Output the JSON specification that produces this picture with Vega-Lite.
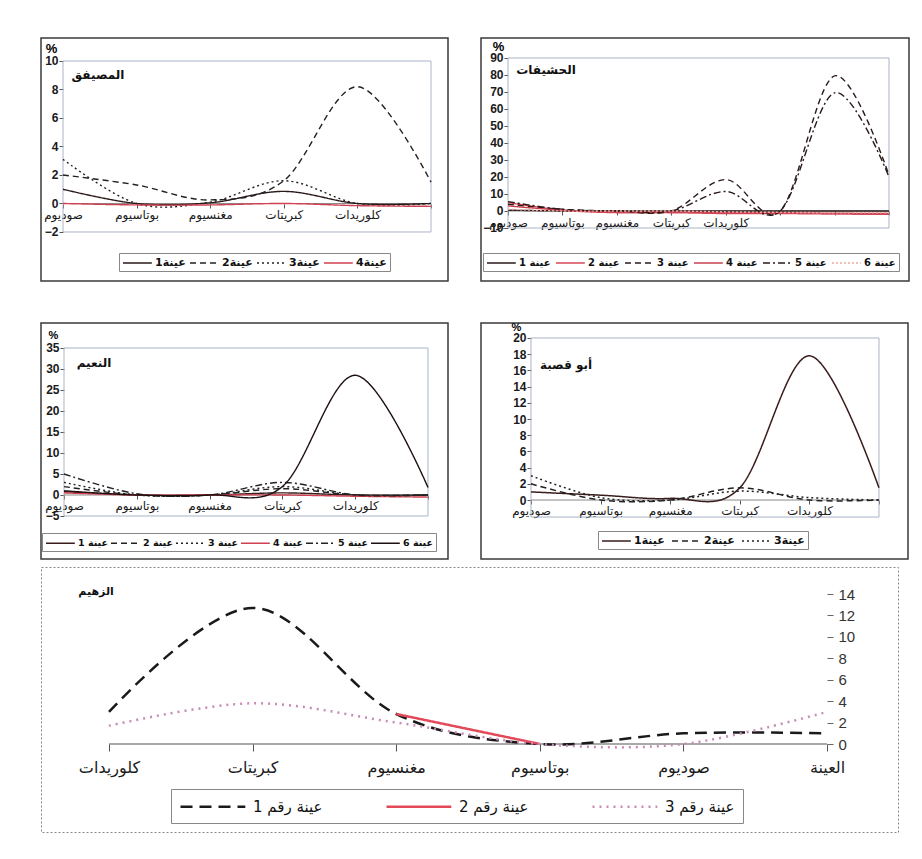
{
  "$schema": "https://vega.github.io/schema/vega-lite/v6.json",
  "padding": {"left": 40, "top": 37, "right": 0, "bottom": 0},
  "background": "white",
  "spacing": 6,
  "resolve": {"scale": {"color": "independent", "strokeDash": "independent"}, "legend": {"color": "independent", "strokeDash": "independent"}},
  "config": {
    "font": "DejaVu Sans",
    "axis": {"grid": false, "domain": false, "labelFont": "Liberation Sans", "labelColor": "#1a1a1a", "tickColor": "#555", "labelOverlap": false, "labelBound": false, "labelFlush": false, "tickCount": 30, "format": "d"},
    "legend": {"symbolType": "M-1,0H3.8", "symbolSize": 144, "labelOffset": 19, "symbolStrokeWidth": 1.5, "labelFont": "DejaVu Sans", "labelFontSize": 10, "labelFontWeight": "bold", "labelColor": "#111", "padding": 3, "strokeColor": "#888", "columnPadding": 2}
  },
  "vconcat": [
    {
      "spacing": 38,
      "resolve": {"scale": {"color": "independent", "strokeDash": "independent"}, "legend": {"color": "independent", "strokeDash": "independent"}},
      "vconcat": [
        {
          "bounds": "flush",
          "spacing": 33,
          "resolve": {"scale": {"color": "independent", "strokeDash": "independent"}, "legend": {"color": "independent", "strokeDash": "independent"}},
          "hconcat": [
            {
              "width": 407, "height": 243,
              "view": {"stroke": "#3a3a3a", "strokeWidth": 1.5},
              "layer": [
                {"data": {"values": [{}]}, "mark": {"type": "rect", "fillOpacity": 0, "stroke": "#a9b3c6", "strokeWidth": 1},
                 "encoding": {"x": {"datum": 0}, "x2": {"datum": 5}, "y": {"datum": -2}, "y2": {"datum": 10}}},
                {"data": {"values": [{}]}, "mark": {"type": "rule", "color": "#8a8a8a", "strokeWidth": 1},
                 "encoding": {"x": {"datum": 0}, "x2": {"datum": 5}, "y": {"datum": 0}}},
                {
                  "data": {"values": [
                    {"s": "عينة1", "i": 0, "v": 1}, {"s": "عينة1", "i": 1, "v": 0}, {"s": "عينة1", "i": 2, "v": 0.05}, {"s": "عينة1", "i": 3, "v": 0.85}, {"s": "عينة1", "i": 4, "v": 0}, {"s": "عينة1", "i": 5, "v": 0},
                    {"s": "عينة2", "i": 0, "v": 2}, {"s": "عينة2", "i": 1, "v": 1.3}, {"s": "عينة2", "i": 2, "v": 0.25}, {"s": "عينة2", "i": 3, "v": 1.6}, {"s": "عينة2", "i": 4, "v": 8.2}, {"s": "عينة2", "i": 5, "v": 1.5},
                    {"s": "عينة3", "i": 0, "v": 3.1}, {"s": "عينة3", "i": 1, "v": 0}, {"s": "عينة3", "i": 2, "v": 0.1}, {"s": "عينة3", "i": 3, "v": 1.6}, {"s": "عينة3", "i": 4, "v": 0}, {"s": "عينة3", "i": 5, "v": 0},
                    {"s": "عينة4", "i": 0, "v": 0}, {"s": "عينة4", "i": 1, "v": -0.1}, {"s": "عينة4", "i": 2, "v": -0.1}, {"s": "عينة4", "i": 3, "v": 0}, {"s": "عينة4", "i": 4, "v": -0.15}, {"s": "عينة4", "i": 5, "v": -0.2}
                  ]},
                  "mark": {"type": "line", "interpolate": "cardinal", "strokeWidth": 1.4},
                  "encoding": {
                    "x": {"field": "i", "type": "quantitative", "scale": {"domain": [-0.299, 5.231], "nice": false, "zero": false},
                          "axis": {"orient": "bottom", "offset": -77, "values": [0, 1, 2, 3, 4, 5], "tickCount": 30, "labelExpr": "['صوديوم','بوتاسيوم','مغنسيوم','كبريتات','كلوريدات',''][datum.value]", "tickSize": 4, "labelPadding": 1, "labelFont": "DejaVu Sans", "labelFontSize": 12, "title": null}},
                    "y": {"field": "v", "type": "quantitative", "scale": {"domain": [-5.439, 11.614], "nice": false, "zero": false},
                          "axis": {"orient": "left", "offset": -22, "values": [-2, 0, 2, 4, 6, 8, 10], "tickCount": 30, "format": "d", "tickSize": 4, "labelFontSize": 12, "labelFontWeight": "bold", "labelPadding": 1, "title": "%", "titleAngle": 0, "titleX": -12, "titleY": 10, "titleFont": "Liberation Sans", "titleFontSize": 13, "titleFontWeight": "bold", "titleAlign": "center", "titleBaseline": "middle"}},
                    "color": {"field": "s", "type": "nominal", "scale": {"domain": ["عينة1", "عينة2", "عينة3", "عينة4"], "range": ["#2a1a1a", "#222222", "#222222", "#d04050"]},
                              "legend": {"orient": "none", "legendX": 78, "legendY": 215, "direction": "horizontal", "title": null, "labelFontSize": 11, "columnPadding": 1, "labelExpr": "slice(datum.label,-1) + trim(slice(datum.label,0,-1))"}},
                    "strokeDash": {"field": "s", "type": "nominal", "scale": {"domain": ["عينة1", "عينة2", "عينة3", "عينة4"], "range": [[1, 0], [6, 4], [2, 3], [1, 0]]}}
                  }
                },
                {"data": {"values": [{"name": "المصيفق"}]}, "mark": {"type": "text", "font": "DejaVu Sans", "fontSize": 12, "fontWeight": "bold", "color": "#111"},
                 "encoding": {"x": {"datum": 0.475}, "y": {"datum": 9.0}, "text": {"field": "name"}}}
              ]
            },
            {
              "width": 428, "height": 243,
              "view": {"stroke": "#3a3a3a", "strokeWidth": 1.5},
              "layer": [
                {"data": {"values": [{}]}, "mark": {"type": "rect", "fillOpacity": 0, "stroke": "#a9b3c6", "strokeWidth": 1},
                 "encoding": {"x": {"datum": 0}, "x2": {"datum": 7}, "y": {"datum": -10}, "y2": {"datum": 90}}},
                {"data": {"values": [{}]}, "mark": {"type": "rule", "color": "#8a8a8a", "strokeWidth": 1},
                 "encoding": {"x": {"datum": 0}, "x2": {"datum": 7}, "y": {"datum": 0}}},
                {
                  "data": {"values": [
                    {"s": "عينة 1", "i": 0, "v": 0.5}, {"s": "عينة 1", "i": 1, "v": 0}, {"s": "عينة 1", "i": 2, "v": 0}, {"s": "عينة 1", "i": 3, "v": 0}, {"s": "عينة 1", "i": 4, "v": 0}, {"s": "عينة 1", "i": 5, "v": 0}, {"s": "عينة 1", "i": 6, "v": 0}, {"s": "عينة 1", "i": 7, "v": 0},
                    {"s": "عينة 2", "i": 0, "v": 5}, {"s": "عينة 2", "i": 1, "v": 0.5}, {"s": "عينة 2", "i": 2, "v": -1}, {"s": "عينة 2", "i": 3, "v": -1}, {"s": "عينة 2", "i": 4, "v": -1.5}, {"s": "عينة 2", "i": 5, "v": -1.5}, {"s": "عينة 2", "i": 6, "v": -1.8}, {"s": "عينة 2", "i": 7, "v": -2},
                    {"s": "عينة 3", "i": 0, "v": 4}, {"s": "عينة 3", "i": 1, "v": 1}, {"s": "عينة 3", "i": 2, "v": 0}, {"s": "عينة 3", "i": 3, "v": 0}, {"s": "عينة 3", "i": 4, "v": 18.5}, {"s": "عينة 3", "i": 5, "v": 0}, {"s": "عينة 3", "i": 6, "v": 79.5}, {"s": "عينة 3", "i": 7, "v": 21},
                    {"s": "عينة 4", "i": 0, "v": 3}, {"s": "عينة 4", "i": 1, "v": 0.5}, {"s": "عينة 4", "i": 2, "v": -0.5}, {"s": "عينة 4", "i": 3, "v": -0.5}, {"s": "عينة 4", "i": 4, "v": -1}, {"s": "عينة 4", "i": 5, "v": -1}, {"s": "عينة 4", "i": 6, "v": -1.3}, {"s": "عينة 4", "i": 7, "v": -1.5},
                    {"s": "عينة 5", "i": 0, "v": 5.5}, {"s": "عينة 5", "i": 1, "v": 1}, {"s": "عينة 5", "i": 2, "v": 0}, {"s": "عينة 5", "i": 3, "v": 0}, {"s": "عينة 5", "i": 4, "v": 11.5}, {"s": "عينة 5", "i": 5, "v": 0}, {"s": "عينة 5", "i": 6, "v": 69.5}, {"s": "عينة 5", "i": 7, "v": 20},
                    {"s": "عينة 6", "i": 0, "v": 1}, {"s": "عينة 6", "i": 1, "v": 0}, {"s": "عينة 6", "i": 2, "v": 0}, {"s": "عينة 6", "i": 3, "v": 0}, {"s": "عينة 6", "i": 4, "v": -0.5}, {"s": "عينة 6", "i": 5, "v": -0.8}, {"s": "عينة 6", "i": 6, "v": -1}, {"s": "عينة 6", "i": 7, "v": -1}
                  ]},
                  "mark": {"type": "line", "interpolate": "cardinal", "strokeWidth": 1.4},
                  "encoding": {
                    "x": {"field": "i", "type": "quantitative", "scale": {"domain": [-0.496, 7.367], "nice": false, "zero": false},
                          "axis": {"orient": "bottom", "offset": -70, "values": [0, 1, 2, 3, 4, 5, 6, 7], "tickCount": 30, "labelExpr": "['صوديوم','بوتاسيوم','مغنسيوم','كبريتات','كلوريدات','','',''][datum.value]", "tickSize": 4, "labelPadding": 2, "labelFont": "DejaVu Sans", "labelFontSize": 12, "title": null}},
                    "y": {"field": "v", "type": "quantitative", "scale": {"domain": [-41.18, 101.76], "nice": false, "zero": false},
                          "axis": {"orient": "left", "offset": -27, "values": [-10, 0, 10, 20, 30, 40, 50, 60, 70, 80, 90], "tickCount": 30, "format": "d", "tickSize": 4, "labelFontSize": 12, "labelFontWeight": "bold", "labelPadding": 1, "title": "%", "titleAngle": 0, "titleX": -10, "titleY": 8, "titleFont": "Liberation Sans", "titleFontSize": 13, "titleFontWeight": "bold", "titleAlign": "center", "titleBaseline": "middle"}},
                    "color": {"field": "s", "type": "nominal", "scale": {"domain": ["عينة 1", "عينة 2", "عينة 3", "عينة 4", "عينة 5", "عينة 6"], "range": ["#2a1a1a", "#d9485a", "#2a1a1a", "#c8404e", "#2a1a1a", "#e8a8a0"]},
                              "legend": {"orient": "none", "legendX": 2, "legendY": 215, "direction": "horizontal", "title": null, "labelFontSize": 10, "columnPadding": 2, "labelExpr": "slice(datum.label,-1) + ' ' + trim(slice(datum.label,0,-1))"}},
                    "strokeDash": {"field": "s", "type": "nominal", "scale": {"domain": ["عينة 1", "عينة 2", "عينة 3", "عينة 4", "عينة 5", "عينة 6"], "range": [[1, 0], [1, 0], [6, 4], [1, 0], [7, 3, 2, 3], [2, 2]]}}
                  }
                },
                {"data": {"values": [{"name": "الحشيفات"}]}, "mark": {"type": "text", "font": "DejaVu Sans", "fontSize": 12, "fontWeight": "bold", "color": "#111"},
                 "encoding": {"x": {"datum": 0.698}, "y": {"datum": 82.9}, "text": {"field": "name"}}}
              ]
            }
          ]
        },
        {
          "bounds": "flush",
          "spacing": 33,
          "resolve": {"scale": {"color": "independent", "strokeDash": "independent"}, "legend": {"color": "independent", "strokeDash": "independent"}},
          "hconcat": [
            {
              "width": 407, "height": 236,
              "view": {"stroke": "#3a3a3a", "strokeWidth": 1.5},
              "layer": [
                {"data": {"values": [{}]}, "mark": {"type": "rect", "fillOpacity": 0, "stroke": "#a9b3c6", "strokeWidth": 1},
                 "encoding": {"x": {"datum": 0}, "x2": {"datum": 5}, "y": {"datum": -5}, "y2": {"datum": 35}}},
                {"data": {"values": [{}]}, "mark": {"type": "rule", "color": "#8a8a8a", "strokeWidth": 1},
                 "encoding": {"x": {"datum": 0}, "x2": {"datum": 5}, "y": {"datum": 0}}},
                {
                  "data": {"values": [
                    {"s": "عينة 1", "i": 0, "v": 0.8}, {"s": "عينة 1", "i": 1, "v": 0}, {"s": "عينة 1", "i": 2, "v": 0}, {"s": "عينة 1", "i": 3, "v": 0.5}, {"s": "عينة 1", "i": 4, "v": 0}, {"s": "عينة 1", "i": 5, "v": 0},
                    {"s": "عينة 2", "i": 0, "v": 2}, {"s": "عينة 2", "i": 1, "v": 0}, {"s": "عينة 2", "i": 2, "v": 0}, {"s": "عينة 2", "i": 3, "v": 1.5}, {"s": "عينة 2", "i": 4, "v": 0}, {"s": "عينة 2", "i": 5, "v": 0},
                    {"s": "عينة 3", "i": 0, "v": 3}, {"s": "عينة 3", "i": 1, "v": 0}, {"s": "عينة 3", "i": 2, "v": 0}, {"s": "عينة 3", "i": 3, "v": 2}, {"s": "عينة 3", "i": 4, "v": 0}, {"s": "عينة 3", "i": 5, "v": 0},
                    {"s": "عينة 4", "i": 0, "v": 0.5}, {"s": "عينة 4", "i": 1, "v": 0}, {"s": "عينة 4", "i": 2, "v": 0}, {"s": "عينة 4", "i": 3, "v": 0}, {"s": "عينة 4", "i": 4, "v": -0.3}, {"s": "عينة 4", "i": 5, "v": -0.5},
                    {"s": "عينة 5", "i": 0, "v": 5}, {"s": "عينة 5", "i": 1, "v": 0.3}, {"s": "عينة 5", "i": 2, "v": 0}, {"s": "عينة 5", "i": 3, "v": 3}, {"s": "عينة 5", "i": 4, "v": 0}, {"s": "عينة 5", "i": 5, "v": 0},
                    {"s": "عينة 6", "i": 0, "v": 1}, {"s": "عينة 6", "i": 1, "v": 0}, {"s": "عينة 6", "i": 2, "v": 0}, {"s": "عينة 6", "i": 3, "v": 2}, {"s": "عينة 6", "i": 4, "v": 28.5}, {"s": "عينة 6", "i": 5, "v": 1.8}
                  ]},
                  "mark": {"type": "line", "interpolate": "cardinal", "strokeWidth": 1.4},
                  "encoding": {
                    "x": {"field": "i", "type": "quantitative", "scale": {"domain": [-0.316, 5.275], "nice": false, "zero": false},
                          "axis": {"orient": "bottom", "offset": -64, "values": [0, 1, 2, 3, 4, 5], "tickCount": 30, "labelExpr": "['صوديوم','بوتاسيوم','مغنسيوم','كبريتات','كلوريدات',''][datum.value]", "tickSize": 4, "labelPadding": 1, "labelFont": "DejaVu Sans", "labelFontSize": 12, "title": null}},
                    "y": {"field": "v", "type": "quantitative", "scale": {"domain": [-15.24, 40.95], "nice": false, "zero": false},
                          "axis": {"orient": "left", "offset": -23, "values": [-5, 0, 5, 10, 15, 20, 25, 30, 35], "tickCount": 30, "format": "d", "tickSize": 4, "labelFontSize": 12, "labelFontWeight": "bold", "labelPadding": 1, "title": "%", "titleAngle": 0, "titleX": -11, "titleY": 12, "titleFont": "Liberation Sans", "titleFontSize": 11, "titleFontWeight": "bold", "titleAlign": "center", "titleBaseline": "middle"}},
                    "color": {"field": "s", "type": "nominal", "scale": {"domain": ["عينة 1", "عينة 2", "عينة 3", "عينة 4", "عينة 5", "عينة 6"], "range": ["#3a1c1c", "#222222", "#222222", "#d04050", "#222222", "#1e1010"]},
                              "legend": {"orient": "none", "legendX": 1, "legendY": 210, "direction": "horizontal", "title": null, "labelFontSize": 9.5, "columnPadding": 0, "labelExpr": "slice(datum.label,-1) + ' ' + trim(slice(datum.label,0,-1))"}},
                    "strokeDash": {"field": "s", "type": "nominal", "scale": {"domain": ["عينة 1", "عينة 2", "عينة 3", "عينة 4", "عينة 5", "عينة 6"], "range": [[1, 0], [6, 4], [2, 3], [1, 0], [7, 3, 2, 3], [1, 0]]}}
                  }
                },
                {"data": {"values": [{"name": "النعيم"}]}, "mark": {"type": "text", "font": "DejaVu Sans", "fontSize": 12, "fontWeight": "bold", "color": "#111"},
                 "encoding": {"x": {"datum": 0.412}, "y": {"datum": 31.4}, "text": {"field": "name"}}}
              ]
            },
            {
              "width": 427, "height": 236,
              "view": {"stroke": "#3a3a3a", "strokeWidth": 1.5},
              "layer": [
                {"data": {"values": [{}]}, "mark": {"type": "rect", "fillOpacity": 0, "stroke": "#a9b3c6", "strokeWidth": 1},
                 "encoding": {"x": {"datum": 0}, "x2": {"datum": 5}, "y": {"datum": -2.1}, "y2": {"datum": 20}}},
                {"data": {"values": [{}]}, "mark": {"type": "rule", "color": "#8a8a8a", "strokeWidth": 1},
                 "encoding": {"x": {"datum": 0}, "x2": {"datum": 5}, "y": {"datum": 0}}},
                {
                  "data": {"values": [
                    {"s": "عينة1", "i": 0, "v": 1}, {"s": "عينة1", "i": 1, "v": 0.6}, {"s": "عينة1", "i": 2, "v": 0.2}, {"s": "عينة1", "i": 3, "v": 1.5}, {"s": "عينة1", "i": 4, "v": 17.8}, {"s": "عينة1", "i": 5, "v": 1.5},
                    {"s": "عينة2", "i": 0, "v": 2}, {"s": "عينة2", "i": 1, "v": 0}, {"s": "عينة2", "i": 2, "v": 0}, {"s": "عينة2", "i": 3, "v": 1.5}, {"s": "عينة2", "i": 4, "v": 0}, {"s": "عينة2", "i": 5, "v": 0},
                    {"s": "عينة3", "i": 0, "v": 3}, {"s": "عينة3", "i": 1, "v": 0.3}, {"s": "عينة3", "i": 2, "v": 0}, {"s": "عينة3", "i": 3, "v": 1.1}, {"s": "عينة3", "i": 4, "v": 0.3}, {"s": "عينة3", "i": 5, "v": 0}
                  ]},
                  "mark": {"type": "line", "interpolate": "cardinal", "strokeWidth": 1.5},
                  "encoding": {
                    "x": {"field": "i", "type": "quantitative", "scale": {"domain": [-0.718, 5.417], "nice": false, "zero": false},
                          "axis": {"orient": "bottom", "offset": -59, "values": [0, 1, 2, 3, 4, 5], "tickCount": 30, "labelExpr": "['صوديوم','بوتاسيوم','مغنسيوم','كبريتات','كلوريدات',''][datum.value]", "tickSize": 4, "labelPadding": 1, "labelFont": "DejaVu Sans", "labelFontSize": 12, "title": null}},
                    "y": {"field": "v", "type": "quantitative", "scale": {"domain": [-7.28, 21.85], "nice": false, "zero": false},
                          "axis": {"orient": "left", "offset": -50, "values": [0, 2, 4, 6, 8, 10, 12, 14, 16, 18, 20], "tickCount": 30, "format": "d", "tickSize": 4, "labelFontSize": 12, "labelFontWeight": "bold", "labelPadding": 1, "title": "%", "titleAngle": 0, "titleX": -15, "titleY": 4, "titleFont": "Liberation Sans", "titleFontSize": 11, "titleFontWeight": "bold", "titleAlign": "center", "titleBaseline": "middle"}},
                    "color": {"field": "s", "type": "nominal", "scale": {"domain": ["عينة1", "عينة2", "عينة3"], "range": ["#3a1c1c", "#222222", "#222222"]},
                              "legend": {"orient": "none", "legendX": 117, "legendY": 208, "direction": "horizontal", "title": null, "labelFontSize": 11, "columnPadding": 4, "labelExpr": "slice(datum.label,-1) + trim(slice(datum.label,0,-1))"}},
                    "strokeDash": {"field": "s", "type": "nominal", "scale": {"domain": ["عينة1", "عينة2", "عينة3"], "range": [[1, 0], [6, 4], [2, 3]]}}
                  }
                },
                {"data": {"values": [{"name": "أبو قصبة"}]}, "mark": {"type": "text", "font": "DejaVu Sans", "fontSize": 12, "fontWeight": "bold", "color": "#111"},
                 "encoding": {"x": {"datum": 0.503}, "y": {"datum": 16.67}, "text": {"field": "name"}}}
              ]
            }
          ]
        }
      ]
    },
    {
      "width": 857, "height": 265,
      "view": {"stroke": "#888", "strokeWidth": 1, "strokeDash": [2, 2]},
      "layer": [
        {"data": {"values": [{}]}, "mark": {"type": "rule", "color": "#555", "strokeWidth": 1.2},
         "encoding": {"x": {"datum": 0}, "x2": {"datum": 5}, "y": {"datum": 0}}},
        {
          "data": {"values": [
            {"s": "عينة رقم 1", "i": 0, "v": 3}, {"s": "عينة رقم 1", "i": 1, "v": 12.7}, {"s": "عينة رقم 1", "i": 2, "v": 2.8}, {"s": "عينة رقم 1", "i": 3, "v": 0}, {"s": "عينة رقم 1", "i": 4, "v": 1}, {"s": "عينة رقم 1", "i": 5, "v": 1},
            {"s": "عينة رقم 2", "i": 2, "v": 2.8}, {"s": "عينة رقم 2", "i": 3, "v": 0},
            {"s": "عينة رقم 3", "i": 0, "v": 1.7}, {"s": "عينة رقم 3", "i": 1, "v": 3.8}, {"s": "عينة رقم 3", "i": 2, "v": 2}, {"s": "عينة رقم 3", "i": 3, "v": 0}, {"s": "عينة رقم 3", "i": 4, "v": 0}, {"s": "عينة رقم 3", "i": 5, "v": 3}
          ]},
          "mark": {"type": "line", "interpolate": "cardinal", "strokeWidth": 2.5},
          "encoding": {
            "x": {"field": "i", "type": "quantitative", "scale": {"domain": [-0.4735, 5.494], "nice": false, "zero": false},
                  "axis": {"orient": "bottom", "offset": -88, "values": [0, 1, 2, 3, 4, 5], "tickCount": 30, "labelExpr": "['كلوريدات','كبريتات','مغنسيوم','بوتاسيوم','صوديوم','العينة'][datum.value]", "tickSize": 7, "tickColor": "#555", "labelPadding": 8, "labelFont": "DejaVu Sans", "labelFontSize": 16, "title": null}},
            "y": {"field": "v", "type": "quantitative", "scale": {"domain": [-8.213, 16.52], "nice": false, "zero": false},
                  "axis": {"orient": "right", "offset": -71, "values": [0, 2, 4, 6, 8, 10, 12, 14], "tickCount": 30, "format": "d", "tickSize": 6, "tickColor": "#666", "labelFontSize": 15, "labelColor": "#333", "labelPadding": 5, "title": null}},
            "color": {"field": "s", "type": "nominal", "scale": {"domain": ["عينة رقم 1", "عينة رقم 2", "عينة رقم 3"], "range": ["#1a1a1a", "#e24a5a", "#c98ab5"]},
                      "legend": {"orient": "none", "legendX": 130, "legendY": 222, "direction": "horizontal", "title": null, "symbolType": "M-1,0H7.1", "symbolSize": 256, "symbolStrokeWidth": 2.5, "labelOffset": 55, "labelFontSize": 15, "labelFontWeight": "normal", "columnPadding": 58, "padding": 8, "labelExpr": "slice(datum.label,-1) + ' ' + trim(slice(datum.label,0,-1))"}},
            "strokeDash": {"field": "s", "type": "nominal", "scale": {"domain": ["عينة رقم 1", "عينة رقم 2", "عينة رقم 3"], "range": [[12, 7], [1, 0], [2, 5]]}}
          }
        },
        {"data": {"values": [{"name": "الزهيم"}]}, "mark": {"type": "text", "font": "DejaVu Sans", "fontSize": 11, "fontWeight": "bold", "color": "#111"},
         "encoding": {"x": {"datum": -0.09}, "y": {"datum": 14.19}, "text": {"field": "name"}}}
      ]
    }
  ]
}
